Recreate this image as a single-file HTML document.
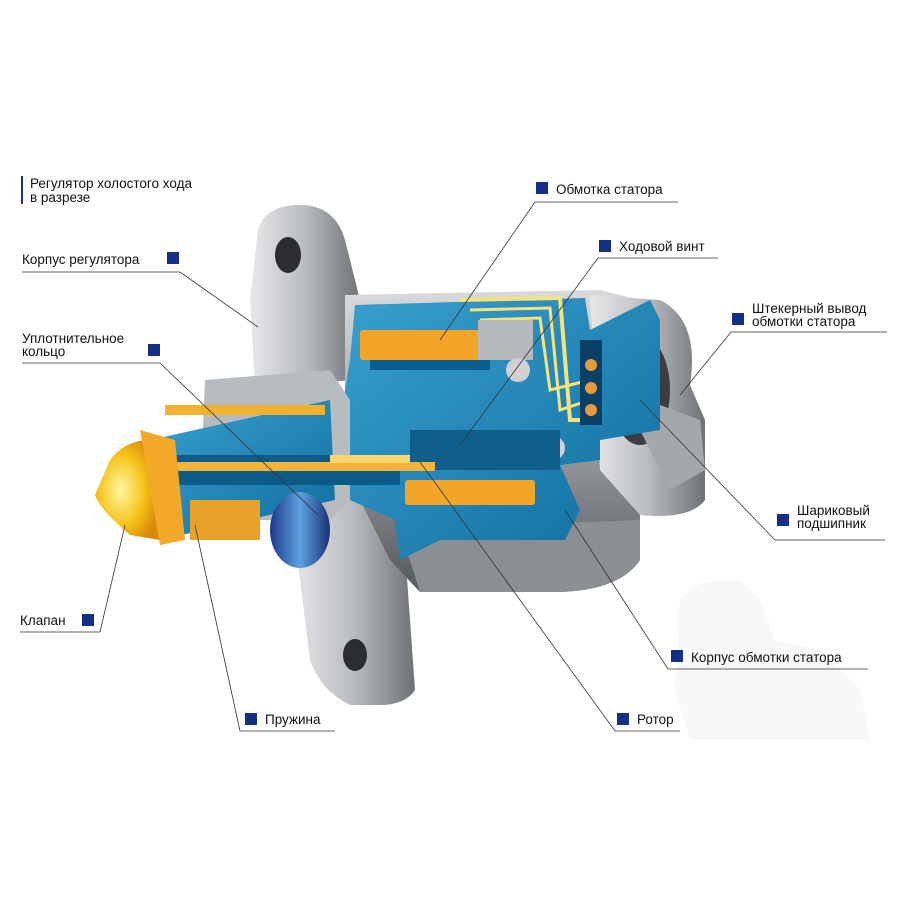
<!DOCTYPE html>
<html><head><meta charset="utf-8"><style>
html,body{margin:0;padding:0;background:#fff;}
svg{display:block}
text{font-family:"Liberation Sans","DejaVu Sans",sans-serif;font-size:13.5px;fill:#111;}
</style></head><body>
<svg width="900" height="900" viewBox="0 0 900 900" xmlns="http://www.w3.org/2000/svg">
<defs>
<linearGradient id="g1" x1="0" y1="0" x2="1" y2="0"><stop offset="0" stop-color="#e8e8ea"/><stop offset=".5" stop-color="#b9bcc0"/><stop offset="1" stop-color="#6e7176"/></linearGradient>
<linearGradient id="g2" x1="0" y1="0" x2="0" y2="1"><stop offset="0" stop-color="#d9dadc"/><stop offset=".5" stop-color="#9a9da1"/><stop offset="1" stop-color="#55585c"/></linearGradient>
<linearGradient id="bl" x1="0" y1="0" x2="1" y2="1"><stop offset="0" stop-color="#3aa0cf"/><stop offset="1" stop-color="#0e6d9e"/></linearGradient>
<radialGradient id="cone" cx=".4" cy=".5" r=".6"><stop offset="0" stop-color="#fff7a0"/><stop offset=".6" stop-color="#f5c21a"/><stop offset="1" stop-color="#d98a0a"/></radialGradient>
<linearGradient id="ring" x1="0" y1="0" x2="1" y2="0"><stop offset="0" stop-color="#1d3a8a"/><stop offset=".5" stop-color="#5ea2e0"/><stop offset="1" stop-color="#1b3276"/></linearGradient>
</defs>
<path d="M680 600 Q700 575 740 580 L760 600 L775 640 L820 650 L860 690 L870 740 L690 740 L675 690 Z" fill="#f8f8f9"/>
<rect x="21" y="176" width="2" height="28" fill="#1a2f8a"/>
<text x="30" y="188">Регулятор холостого хода</text>
<text x="30" y="202">в разрезе</text>
<path d="M290 500 L400 480 L415 690 Q405 705 380 705 L350 705 Q320 690 310 660 Z" fill="url(#g1)"/>
<ellipse cx="355" cy="655" rx="12" ry="16" fill="#2b2d30"/>
<path d="M258 230 Q265 205 300 205 Q335 205 345 240 L360 300 L350 380 L255 390 L250 300 Z" fill="url(#g1)"/>
<ellipse cx="288" cy="255" rx="13" ry="18" fill="#2b2d30"/>
<path d="M345 295 L600 290 L640 300 L640 560 Q620 590 560 592 L420 592 L390 560 L345 470 Z" fill="url(#g2)"/>
<path d="M400 530 L640 520 L640 560 Q620 590 560 592 L420 592 Z" fill="#8b8e92"/>
<path d="M590 295 L660 300 Q700 320 690 385 L705 420 L705 500 Q690 520 640 515 L600 470 Z" fill="url(#g1)"/>
<ellipse cx="640" cy="390" rx="30" ry="55" fill="#3b3d41"/>
<path d="M620 390 L700 420 L705 470 L670 490 Z" fill="#a4a7ab"/>
<path d="M355 305 L585 298 L590 330 L650 300 L660 320 L660 430 L600 440 L600 460 L560 465 L580 510 L565 540 L440 540 L400 560 L395 520 L350 500 L330 470 L340 420 L350 360 Z" fill="url(#bl)"/>
<rect x="370" y="335" width="120" height="35" fill="#0a5f8f"/>
<rect x="360" y="330" width="120" height="30" rx="3" fill="#f3a52a"/>
<rect x="405" y="480" width="130" height="25" rx="3" fill="#f3a52a"/>
<path d="M460 300 L560 298 L570 420 L590 420" fill="none" stroke="#f6e27a" stroke-width="4"/>
<path d="M470 310 L550 308 L560 410 L590 400" fill="none" stroke="#f6e27a" stroke-width="3"/>
<path d="M480 320 L540 318 L550 390 L590 380" fill="none" stroke="#f6e27a" stroke-width="3"/>
<rect x="478" y="320" width="55" height="40" fill="#b5b8bc"/>
<circle cx="518" cy="370" r="12" fill="#cfd1d3"/>
<circle cx="553" cy="448" r="12" fill="#cfd1d3"/>
<rect x="580" y="340" width="22" height="85" fill="#0a3f66"/>
<circle cx="591" cy="365" r="6" fill="#e89a3a"/><circle cx="591" cy="388" r="6" fill="#e89a3a"/><circle cx="591" cy="410" r="6" fill="#e89a3a"/>
<rect x="410" y="430" width="150" height="40" fill="#0f5e8c"/>
<path d="M205 380 L330 370 L350 400 L350 500 L330 520 L230 520 L200 500 Z" fill="#b8bbbf"/>
<path d="M150 440 L330 400 L335 500 L160 540 Z" fill="url(#bl)"/>
<rect x="165" y="405" width="160" height="10" fill="#f0b030"/>
<rect x="190" y="500" width="70" height="40" fill="#e8a22a"/>
<ellipse cx="300" cy="530" rx="30" ry="38" fill="url(#ring)"/>
<rect x="150" y="455" width="250" height="30" fill="#0c5a86"/>
<rect x="165" y="462" width="270" height="9" fill="#f2b43a"/>
<rect x="330" y="455" width="80" height="8" fill="#f7d46c"/>
<path d="M150 440 L160 540 L130 535 Q100 510 95 495 L110 460 Q125 440 150 440 Z" fill="url(#cone)"/>
<path d="M140 430 L175 440 L185 540 L160 545 Z" fill="#f2a92a"/>
<g stroke="#333" stroke-width="0.8" fill="none">
<path d="M22 272 L180 272 L258 327"/>
<path d="M22 363 L160 363 L318 515"/>
<path d="M20 632 L100 632 L125 525"/>
<path d="M335 731 L240 731 L195 525"/>
<path d="M678 202 L535 202 L440 340"/>
<path d="M718 258 L598 258 L460 445"/>
<path d="M887 332 L731 332 L680 395"/>
<path d="M885 540 L775 540 L640 400"/>
<path d="M868 669 L668 669 L565 510"/>
<path d="M680 731 L615 731 L420 462"/>
</g>
<g fill="#132f86">
<rect x="167" y="252" width="12" height="12"/>
<rect x="148" y="344" width="12" height="12"/>
<rect x="82" y="614" width="12" height="12"/>
<rect x="245" y="713" width="12" height="12"/>
<rect x="536" y="182" width="12" height="12"/>
<rect x="599" y="240" width="12" height="12"/>
<rect x="732" y="313" width="12" height="12"/>
<rect x="777" y="514" width="12" height="12"/>
<rect x="671" y="650" width="12" height="12"/>
<rect x="617" y="713" width="12" height="12"/>
</g>
<text x="22" y="264">Корпус регулятора</text>
<text x="22" y="343">Уплотнительное</text>
<text x="22" y="356">кольцо</text>
<text x="20" y="625">Клапан</text>
<text x="265" y="724">Пружина</text>
<text x="556" y="194">Обмотка статора</text>
<text x="619" y="251">Ходовой винт</text>
<text x="752" y="313">Штекерный вывод</text>
<text x="752" y="326">обмотки статора</text>
<text x="797" y="515">Шариковый</text>
<text x="797" y="528">подшипник</text>
<text x="691" y="662">Корпус обмотки статора</text>
<text x="637" y="724">Ротор</text>
</svg>
</body></html>
